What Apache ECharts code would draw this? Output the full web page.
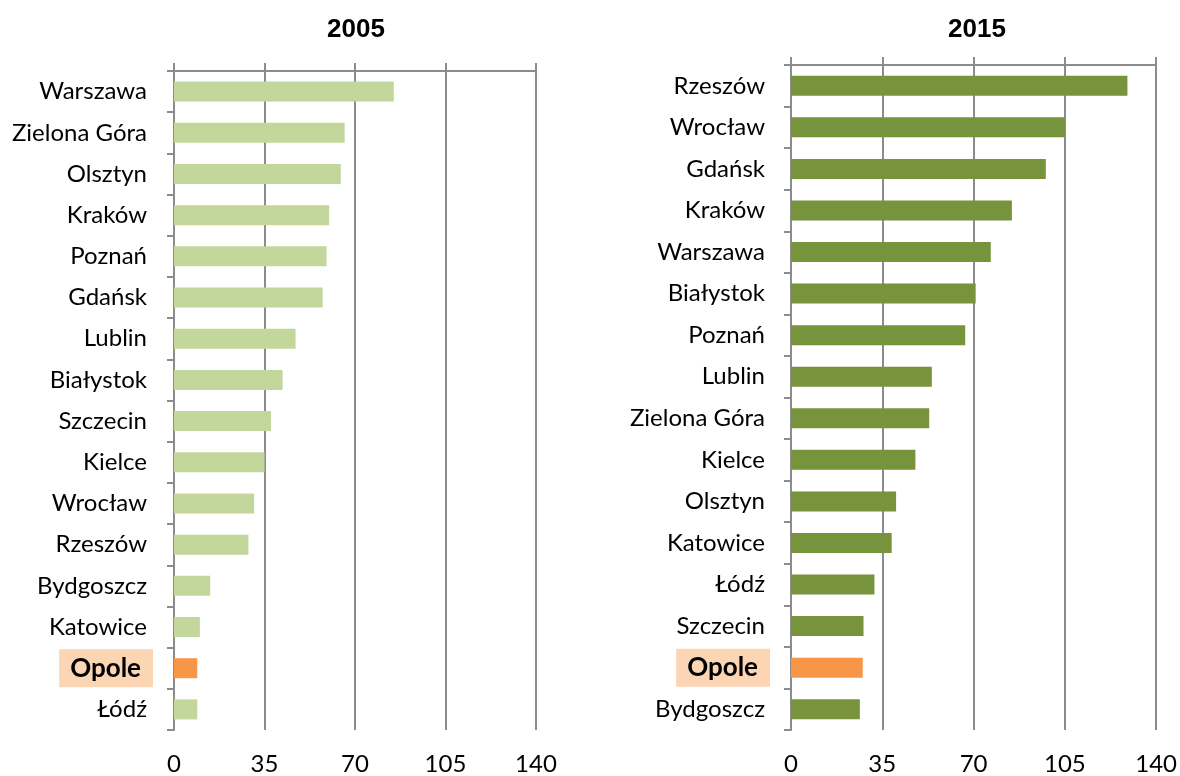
<!DOCTYPE html>
<html>
<head>
<meta charset="utf-8">
<script src="https://cdn.jsdelivr.net/npm/echarts@6/dist/echarts.min.js"></script>
<style>
  html, body { margin: 0; padding: 0; background: #fff; }
  #chart { width: 1180px; height: 776px; }
</style>
</head>
<body>
<div id="chart"></div>
<script>
  // 2005 ranking (top to bottom)
  var cities2005 = ['Warszawa', 'Zielona Góra', 'Olsztyn', 'Kraków', 'Poznań', 'Gdańsk', 'Lublin', 'Białystok',
                    'Szczecin', 'Kielce', 'Wrocław', 'Rzeszów', 'Bydgoszcz', 'Katowice', 'Opole', 'Łódź'];
  var values2005 = [85, 66, 64.5, 60, 59, 57.5, 47, 42, 37.5, 35, 31, 28.8, 14, 10, 9, 9];

  // 2015 ranking (top to bottom)
  var cities2015 = ['Rzeszów', 'Wrocław', 'Gdańsk', 'Kraków', 'Warszawa', 'Białystok', 'Poznań', 'Lublin',
                    'Zielona Góra', 'Kielce', 'Olsztyn', 'Katowice', 'Łódź', 'Szczecin', 'Opole', 'Bydgoszcz'];
  var values2015 = [129, 105, 97.7, 84.7, 76.6, 70.8, 66.8, 54, 53, 47.7, 40.3, 38.6, 32, 27.8, 27.5, 26.4];

  var ticks = [0, 35, 70, 105, 140];
  var highlight = 'Opole';

  var gridColor = '#8c8c8c';
  var font = 'Lato';

  function barData(cats, vals, color) {
    return vals.map(function (v, i) {
      return { value: v, itemStyle: { color: cats[i] === highlight ? '#F79646' : color } };
    });
  }

  function valueAxes(gi) {
    return [
      {
        gridIndex: gi, type: 'value', position: 'top',
        min: ticks[0], max: ticks[ticks.length - 1], interval: ticks[1] - ticks[0],
        axisLine: { show: true, lineStyle: { color: gridColor, width: 2 } },
        axisTick: { show: true, length: 8, lineStyle: { color: gridColor, width: 2 } },
        axisLabel: { show: false },
        splitLine: { show: true, lineStyle: { color: gridColor, width: 2 } }
      },
      {
        gridIndex: gi, type: 'value', position: 'bottom',
        min: ticks[0], max: ticks[ticks.length - 1], interval: ticks[1] - ticks[0],
        axisLine: { show: false }, axisTick: { show: false }, splitLine: { show: false },
        axisLabel: { show: true, margin: 22, color: '#000', fontFamily: font, fontSize: 24 }
      }
    ];
  }

  function catAxis(gi, cats, padRight) {
    return {
      gridIndex: gi, type: 'category', data: cats, inverse: true,
      axisLine: { show: true, lineStyle: { color: gridColor, width: 2 } },
      axisTick: { show: true, length: 7, lineStyle: { color: gridColor, width: 2 } },
      axisLabel: {
        margin: 21,
        formatter: function (v) { return v === highlight ? '{o|' + v + '}' : '{n|' + v + '}'; },
        rich: {
          n: { color: '#000', fontFamily: font, fontSize: 24, padding: [0, padRight, 0, 0] },
          o: { color: '#000', fontFamily: font, fontSize: 26, fontWeight: 'bold',
               backgroundColor: '#FCD5B5', lineHeight: 26, padding: [6, 12, 6, 11] }
        }
      }
    };
  }

  var chart = echarts.init(document.getElementById('chart'));
  chart.setOption({
    animation: false,
    title: [
      { text: '2005', left: 351, top: 12, textAlign: 'center',
        textStyle: { fontFamily: 'Liberation Sans', fontWeight: 'bold', fontSize: 26, color: '#000' } },
      { text: '2015', left: 972, top: 12, textAlign: 'center',
        textStyle: { fontFamily: 'Liberation Sans', fontWeight: 'bold', fontSize: 26, color: '#000' } }
    ],
    grid: [
      { left: 174, top: 71, width: 362, height: 660 },
      { left: 791, top: 65, width: 367, height: 665 }
    ],
    xAxis: valueAxes(0).concat(valueAxes(1)),
    yAxis: [catAxis(0, cities2005, 6), catAxis(1, cities2015, 5)],
    series: [
      { type: 'bar', xAxisIndex: 0, yAxisIndex: 0, barWidth: 20,
        data: barData(cities2005, values2005, '#C3D69B') },
      { type: 'bar', xAxisIndex: 2, yAxisIndex: 1, barWidth: 20,
        data: barData(cities2015, values2015, '#77933C') }
    ]
  });
</script>
</body>
</html>
